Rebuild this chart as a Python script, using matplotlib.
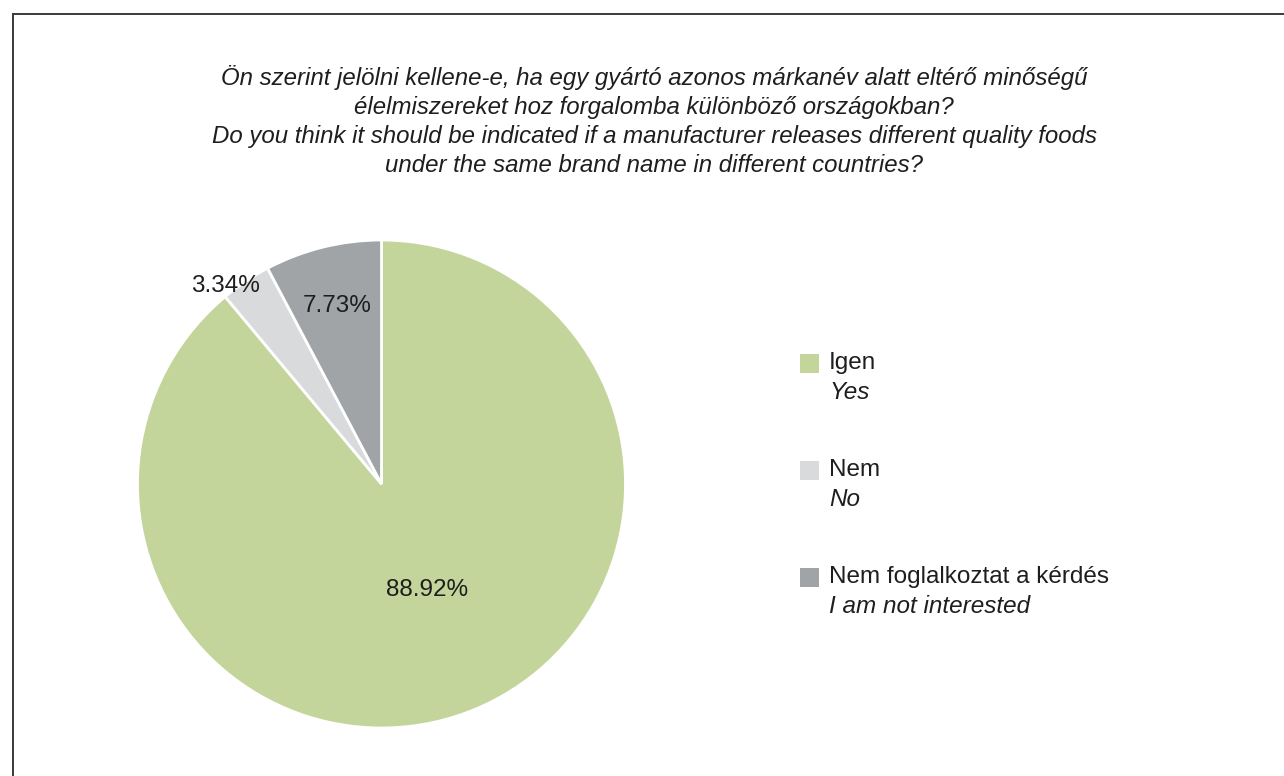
import matplotlib.pyplot as plt
import numpy as np
from matplotlib.patches import Rectangle
from matplotlib.lines import Line2D

plt.rcParams['font.family'] = ['Liberation Sans', 'DejaVu Sans']

title_lines = [
    "Ön szerint jelölni kellene-e, ha egy gyártó azonos márkanév alatt eltérő minőségű",
    "élelmiszereket hoz forgalomba különböző országokban?",
    "Do you think it should be indicated if a manufacturer releases different quality foods",
    "under the same brand name in different countries?",
]
labels_hu = ["Igen", "Nem", "Nem foglalkoztat a kérdés"]
labels_en = ["Yes", "No", "I am not interested"]
shares = [88.92, 3.34, 7.73]
colors = ["#c3d59b", "#d9dadc", "#a1a4a7"]
label_dist = [0.465, 1.04, 0.76]
label_turn = [3.5, 4.0, 0.0]  # small angular nudges of the percent labels

W, H = 1284, 776
fig = plt.figure(figsize=(W / 100, H / 100), dpi=100)
txt_col = "#1e1e1e"

# frame lines (left and top)
fig.add_artist(Line2D([12.5 / W, 12.5 / W], [0, 1 - 14 / H], transform=fig.transFigure,
                      color="#3a3a3a", lw=1.4))
fig.add_artist(Line2D([12.5 / W, 1], [1 - 14 / H, 1 - 14 / H], transform=fig.transFigure,
                      color="#3a3a3a", lw=1.4))

fig.text(654 / W, 1 - 121 / H, "\n".join(title_lines), ha="center", va="center",
         style="italic", fontsize=17.3, color=txt_col, linespacing=1.33)

# pie
cx, cy, r = 381.5, 484, 244
ax = fig.add_axes([(cx - r) / W, 1 - (cy + r) / H, 2 * r / W, 2 * r / H])
wedges, _ = ax.pie(shares, colors=colors, startangle=90, counterclock=False,
                   wedgeprops=dict(edgecolor="white", linewidth=2))
ax.set_xlim(-1, 1)
ax.set_ylim(-1, 1)
ax.set_aspect("equal")
ax.axis("off")

for w, v, d, t in zip(wedges, shares, label_dist, label_turn):
    ang = np.deg2rad((w.theta1 + w.theta2) / 2 + t)
    ax.text(d * np.cos(ang), d * np.sin(ang) - 0.008, f"{v:.2f}%", ha="center", va="center",
            fontsize=17.5, color=txt_col, clip_on=False)

# legend
y0, step = 363.5, 107
for i, (hu, en, c) in enumerate(zip(labels_hu, labels_en, colors)):
    y = y0 + i * step
    fig.add_artist(Rectangle((800 / W, 1 - (y + 9.5) / H), 19 / W, 19 / H,
                             transform=fig.transFigure, facecolor=c, edgecolor="none"))
    fig.text(829 / W, 1 - y / H, hu, ha="left", va="center", fontsize=17.5, color=txt_col)
    fig.text(829 / W, 1 - (y + 29) / H, en, ha="left", va="center", fontsize=17.5,
             style="italic", color=txt_col)

fig.savefig("out.png", dpi=100)
